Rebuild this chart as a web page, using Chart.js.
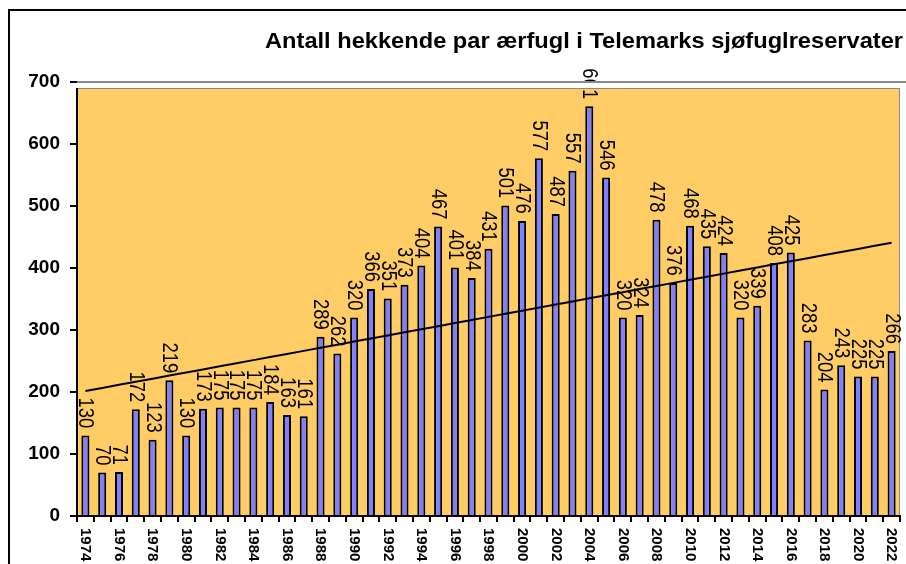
<!DOCTYPE html>
<html>
<head>
<meta charset="utf-8">
<script src="https://cdn.jsdelivr.net/npm/chart.js@4"></script>
<style>
  html, body { margin: 0; padding: 0; background: #fff; }
  #wrap { width: 906px; height: 564px; }
</style>
</head>
<body>
<div id="wrap"><canvas id="myChart" width="906" height="564"></canvas></div>
<script>
const years = [];
for (let y = 1974; y <= 2022; y++) years.push(String(y));

const pairs = [
    130, 70, 71, 172, 123, 219, 130, 173, 175, 175, 175, 184, 163, 161,
    289, 262, 320, 366, 351, 373, 404, 467, 401, 384, 431, 501,
    476, 577, 487, 557, 661, 546, 320, 324, 478, 376,
    468, 435, 424, 320, 339, 408, 425, 283, 204, 243,
    225, 225, 266,
];

const yTicks = [0, 100, 200, 300, 400, 500, 600, 700];
const title = "Antall hekkende par ærfugl i Telemarks sjøfuglreservater";

// linear trend (least squares) over the counts
const trend = (() => {
    const n = pairs.length;
    let sx = 0, sy = 0, sxx = 0, sxy = 0;
    pairs.forEach((v, i) => { sx += i; sy += v; sxx += i * i; sxy += i * v; });
    const b = (n * sxy - sx * sy) / (n * sxx - sx * sx);
    const a = (sy - b * sx) / n;
    return pairs.map((v, i) => a + b * i);
})();

const FONT = "'Liberation Sans', Arial, sans-serif";

const decor = {
    id: "decor",
    beforeDraw(chart) {
        const { ctx, chartArea: ca, scales } = chart;
        ctx.save();
        ctx.fillStyle = "#fff";
        ctx.fillRect(0, 0, chart.width, chart.height);
        // outer frame
        ctx.strokeStyle = "#000";
        ctx.lineWidth = 2;
        ctx.beginPath();
        ctx.moveTo(9, chart.height + 2);
        ctx.lineTo(9, 10);
        ctx.lineTo(chart.width + 2, 10);
        ctx.stroke();
        // plot area
        const top = scales.y.getPixelForValue(700) + 6;
        ctx.fillStyle = "#FFCC66";
        ctx.fillRect(ca.left, top, ca.right - ca.left, ca.bottom - top);
        ctx.strokeStyle = "#888";
        ctx.lineWidth = 1;
        ctx.strokeRect(ca.left + 0.5, top + 0.5, ca.right - ca.left - 1, ca.bottom - top);
        ctx.restore();
    },
    afterDatasetsDraw(chart) {
        const { ctx } = chart;
        const meta = chart.getDatasetMeta(1);
        ctx.save();
        ctx.fillStyle = "#000";
        ctx.font = "22px " + FONT;
        ctx.textAlign = "right";
        ctx.textBaseline = "middle";
        meta.data.forEach((bar, i) => {
            ctx.save();
            ctx.translate(bar.x, bar.y - 7);
            ctx.rotate(Math.PI / 2);
            ctx.scale(0.84, 1);
            ctx.fillText(String(pairs[i]), 0, 0);
            ctx.restore();
        });
        ctx.restore();
    },
    afterDraw(chart) {
        const { ctx, chartArea: ca, scales } = chart;
        const y700 = scales.y.getPixelForValue(700);
        ctx.save();
        // white strip between top gridline and plot area
        ctx.fillStyle = "#fff";
        ctx.fillRect(ca.left - 1, y700 + 1, chart.width, 5);
        ctx.strokeStyle = "#888";
        ctx.lineWidth = 2;
        ctx.beginPath();
        ctx.moveTo(ca.left, y700);
        ctx.lineTo(chart.width, y700);
        ctx.stroke();
        // year labels, every second year, rotated clockwise
        ctx.fillStyle = "#000";
        ctx.font = "bold 15px " + FONT;
        ctx.textAlign = "left";
        ctx.textBaseline = "middle";
        years.forEach((lab, i) => {
            if (i % 2) return;
            const x = scales.x.getPixelForValue(i);
            ctx.save();
            ctx.translate(x, ca.bottom + 12);
            ctx.rotate(Math.PI / 2);
            ctx.fillText(lab, 0, 0);
            ctx.restore();
        });
        // title, right aligned
        ctx.font = "bold 22px " + FONT;
        ctx.textAlign = "left";
        ctx.textBaseline = "alphabetic";
        const w = ctx.measureText(title).width;
        const target = 903 - 265;
        ctx.translate(265, 48);
        ctx.scale(target / w, 1);
        ctx.fillText(title, 0, 0);
        ctx.restore();
    },
};

new Chart(document.getElementById("myChart"), {
    type: "bar",
    data: {
        labels: years,
        datasets: [
            {
                type: "line",
                data: trend,
                borderColor: "#000",
                borderWidth: 2,
                pointRadius: 0,
                fill: false,
                order: 0,
            },
            {
                data: pairs,
                backgroundColor: "#8080FF",
                borderColor: "#000",
                borderWidth: 2,
                barPercentage: 0.48,
                categoryPercentage: 1,
                order: 1,
            },
        ],
    },
    options: {
        responsive: false,
        animation: false,
        layout: { padding: { top: 82, right: 6, left: 0, bottom: 0 } },
        plugins: { legend: { display: false }, tooltip: { enabled: false } },
        scales: {
            x: {
                offset: true,
                grid: { drawOnChartArea: false, offset: true, color: "#000", lineWidth: 2, tickLength: 6 },
                border: { color: "#000", width: 2 },
                ticks: { display: false },
                afterFit: (s) => { s.height = 48; },
            },
            y: {
                min: 0,
                max: 700,
                afterBuildTicks: (s) => { s.ticks = yTicks.map((v) => ({ value: v })); },
                grid: { drawOnChartArea: false, color: "#000", lineWidth: 2, tickLength: 7 },
                border: { color: "#000", width: 2 },
                ticks: {
                    color: "#000",
                    padding: 10,
                    font: { family: FONT, size: 19, weight: "bold" },
                },
                afterFit: (s) => { s.width = 77; },
            },
        },
    },
    plugins: [decor],
});
</script>
</body>
</html>
